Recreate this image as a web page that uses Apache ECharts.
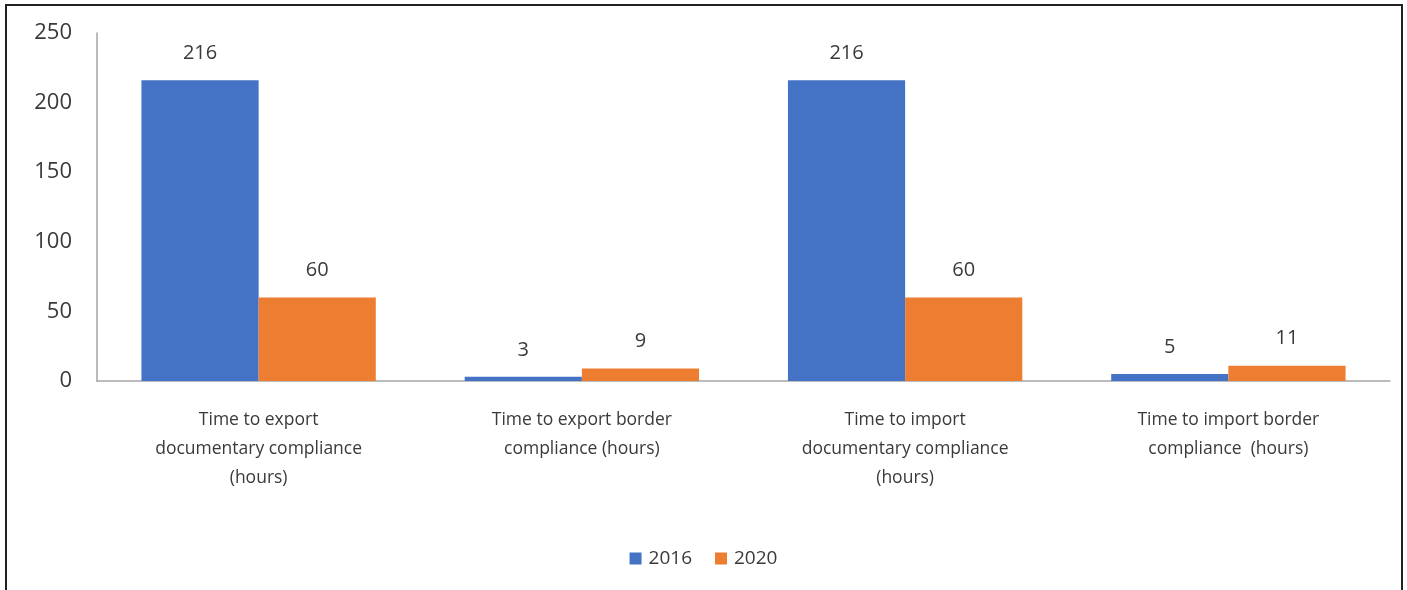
<!DOCTYPE html>
<html>
<head>
<meta charset="utf-8">
<script src="https://cdn.jsdelivr.net/npm/echarts@6/dist/echarts.min.js"></script>
<style>
  html, body { margin: 0; padding: 0; background: #ffffff; }
  #frame {
    position: absolute; left: 5px; top: 4px; width: 1398px; height: 600px;
    border: 2px solid #222222; border-bottom: none; box-sizing: border-box;
    pointer-events: none; z-index: 2;
  }
  #chart { position: absolute; left: 0; top: 0; width: 1407px; height: 590px; }
</style>
</head>
<body>
<div id="chart"></div>
<div id="frame"></div>
<script>
// Hours needed for trade compliance, by indicator and year
const categories = [
  'Time to export\ndocumentary compliance\n(hours)',
  'Time to export border\ncompliance (hours)',
  'Time to import\ndocumentary compliance\n(hours)',
  'Time to import border\ncompliance  (hours)'
];
const years = ['2016', '2020'];
const values2016 = [216, 3, 216, 5];
const values2020 = [60, 9, 60, 11];
const yTicks = { min: 0, max: 250, interval: 50 };

const textColor = '#3a3a3a';
const font = '"Open Sans", "Liberation Sans", sans-serif';

const labelStyle = {
  show: true,
  position: 'top',
  distance: 17,
  color: textColor,
  fontFamily: font,
  fontSize: 20
};

const chart = echarts.init(document.getElementById('chart'), null, { renderer: 'canvas' });
chart.setOption({
  backgroundColor: '#ffffff',
  animation: false,
  textStyle: { fontFamily: font, color: textColor },
  grid: { left: 97, right: 17, top: 33, bottom: 209, containLabel: false },
  legend: {
    data: years,
    bottom: 17,
    left: 'center',
    itemWidth: 12,
    itemHeight: 12,
    itemGap: 23,
    icon: 'rect',
    textStyle: { color: textColor, fontFamily: font, fontSize: 19, padding: [0, 0, 0, 2] }
  },
  xAxis: {
    type: 'category',
    data: categories,
    axisLine: { show: true, lineStyle: { color: '#a6a6a6', width: 1.5 } },
    axisTick: { show: false },
    axisLabel: {
      color: textColor, fontFamily: font, fontSize: 17.5,
      lineHeight: 29, margin: 25, interval: 0
    }
  },
  yAxis: {
    type: 'value',
    min: yTicks.min,
    max: yTicks.max,
    interval: yTicks.interval,
    axisLine: { show: true, lineStyle: { color: '#a6a6a6', width: 1.5 } },
    axisTick: { show: false },
    splitLine: { show: false },
    axisLabel: { color: textColor, fontFamily: font, fontSize: 22, margin: 25 }
  },
  series: [
    {
      name: years[0], type: 'bar', data: values2016,
      itemStyle: { color: '#4472C4' },
      barGap: '0%', barCategoryGap: '27.5%',
      label: labelStyle
    },
    {
      name: years[1], type: 'bar', data: values2020,
      itemStyle: { color: '#ED7D31' },
      barGap: '0%', barCategoryGap: '27.5%',
      label: labelStyle
    }
  ]
});
</script>
</body>
</html>
